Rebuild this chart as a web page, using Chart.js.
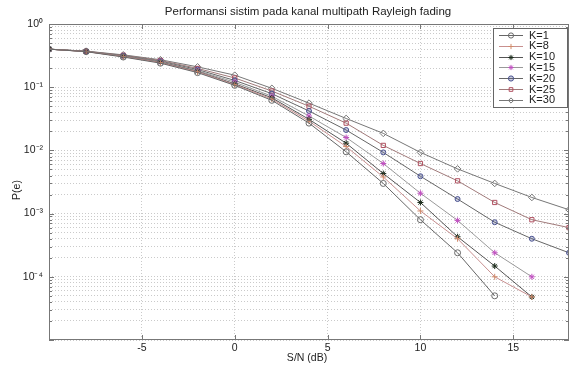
<!DOCTYPE html>
<html>
<head>
<meta charset="utf-8">
<script src="https://cdn.jsdelivr.net/npm/chart.js@4.4.1/dist/chart.umd.min.js"></script>
<style>
  html, body { margin: 0; padding: 0; background: #fff; }
  #wrap { width: 574px; height: 365px; position: relative; }
</style>
</head>
<body>
<div id="wrap"><canvas id="chart"></canvas></div>
<script>
// S/N (dB) sample points
const snr = [-10, -8, -6, -4, -2, 0, 2, 4, 6, 8, 10, 12, 14, 16, 18];

// P(e) per K (null = not plotted)
const k1  = [0.40, 0.365, 0.300, 0.240, 0.170, 0.107, 0.062, 0.027, 0.0095, 0.0030, 0.00080, 0.00024, 0.00005, null, null];
const k8  = [0.40, 0.366, 0.305, 0.245, 0.175, 0.110, 0.065, 0.029, 0.0115, 0.0038, 0.00110, 0.00040, 0.00010, 0.000048, null];
const k10 = [0.40, 0.367, 0.307, 0.248, 0.178, 0.113, 0.068, 0.031, 0.0130, 0.0043, 0.00150, 0.00043, 0.000148, 0.000048, null];
const k15 = [0.40, 0.368, 0.310, 0.252, 0.183, 0.120, 0.072, 0.035, 0.0160, 0.0062, 0.00210, 0.00078, 0.00024, 0.00010, null];
const k20 = [0.40, 0.369, 0.315, 0.258, 0.190, 0.128, 0.079, 0.042, 0.0210, 0.0093, 0.00390, 0.00170, 0.00073, 0.00040, 0.00024];
const k25 = [0.40, 0.370, 0.320, 0.265, 0.198, 0.140, 0.087, 0.050, 0.0270, 0.0120, 0.00620, 0.00330, 0.00150, 0.00080, 0.00060];
const k30 = [0.40, 0.372, 0.325, 0.272, 0.210, 0.155, 0.096, 0.056, 0.0320, 0.0186, 0.00930, 0.00510, 0.00300, 0.00180, 0.00115];

const seriesLabels = ['K=1', 'K=8', 'K=10', 'K=15', 'K=20', 'K=25', 'K=30'];
const seriesValues = [k1, k8, k10, k15, k20, k25, k30];

const xTicks = [-5, 0, 5, 10, 15];
const yDecades = [-5, -4, -3, -2, -1, 0];

const FONT = '"Liberation Sans", Arial, Helvetica, sans-serif';

const styles = [
    { line: '#666', point: '#6a6a6a', fill: 'rgba(0,0,0,0)', shape: 'circle', r: 3 },
    { line: '#c89090', point: '#d08a6a', fill: 'rgba(0,0,0,0)', shape: 'cross', r: 3 },
    { line: '#555', point: '#1a2a1a', fill: 'rgba(0,0,0,0)', shape: 'star', r: 3 },
    { line: '#999', point: '#c050c0', fill: 'rgba(200,90,200,0.3)', shape: 'star', r: 3 },
    { line: '#666', point: '#4a5290', fill: 'rgba(80,90,150,0.3)', shape: 'circle', r: 2.5 },
    { line: '#a07a7a', point: '#b05060', fill: 'rgba(0,0,0,0)', shape: 'rect', r: 3 },
    { line: '#777', point: '#777', fill: 'rgba(0,0,0,0)', shape: 'rectRot', r: 3.3 },
];

const datasets = seriesValues.map((vals, i) => ({
    label: seriesLabels[i],
    data: snr.map((x, j) => ({ x, y: vals[j] })),
    borderColor: styles[i].line,
    borderWidth: 1,
    pointStyle: styles[i].shape,
    pointRadius: styles[i].r,
    pointBorderColor: styles[i].point,
    pointBackgroundColor: styles[i].fill,
    pointBorderWidth: 1,
    tension: 0,
    spanGaps: false,
}));

const supers = { '-': '\u207B', '0': '\u2070', '1': '\u00B9', '2': '\u00B2', '3': '\u00B3', '4': '\u2074', '5': '\u2075' };

// Matlab-style frame, inward ticks, title, axis labels and legend box
const decorations = {
    id: 'decorations',
    afterDraw(chart) {
        const { ctx, chartArea: a, scales } = chart;
        ctx.save();
        ctx.strokeStyle = '#777';
        ctx.lineWidth = 1;
        ctx.strokeRect(a.left + 0.5, a.top + 0.5, a.right - a.left - 1, a.bottom - a.top - 1);

        // inward tick marks
        ctx.beginPath();
        xTicks.forEach(v => {
            const px = Math.round(scales.x.getPixelForValue(v)) + 0.5;
            ctx.moveTo(px, a.bottom); ctx.lineTo(px, a.bottom - 5);
            ctx.moveTo(px, a.top); ctx.lineTo(px, a.top + 5);
        });
        yDecades.forEach(d => {
            for (let m = 1; m <= 9; m++) {
                const v = m * Math.pow(10, d);
                if (v > 1) break;
                const py = Math.round(scales.y.getPixelForValue(v)) + 0.5;
                const len = m === 1 ? 5 : 3;
                ctx.moveTo(a.left, py); ctx.lineTo(a.left + len, py);
                ctx.moveTo(a.right, py); ctx.lineTo(a.right - len, py);
            }
        });
        ctx.stroke();

        // texts
        ctx.fillStyle = '#222';
        ctx.textAlign = 'center';
        ctx.textBaseline = 'middle';
        ctx.font = '11.5px ' + FONT;
        ctx.fillText('Performansi sistim pada kanal multipath Rayleigh fading', 308, 12);
        ctx.font = '10.5px ' + FONT;
        ctx.fillText('S/N (dB)', 307, 358);
        ctx.save();
        ctx.translate(17, 190);
        ctx.rotate(-Math.PI / 2);
        ctx.fillText('P(e)', 0, 0);
        ctx.restore();

        // legend
        const lx = 493, ly = 28, lw = 74, lh = 79;
        ctx.fillStyle = '#fff';
        ctx.fillRect(lx, ly, lw, lh);
        ctx.strokeStyle = '#666';
        ctx.strokeRect(lx + 0.5, ly + 0.5, lw, lh);
        ctx.font = '11px ' + FONT;
        ctx.textAlign = 'left';
        seriesLabels.forEach((lab, i) => {
            const y = 35 + i * 10.8;
            const s = styles[i];
            ctx.strokeStyle = s.line;
            ctx.lineWidth = 1;
            ctx.beginPath();
            ctx.moveTo(499, Math.round(y) + 0.5);
            ctx.lineTo(523, Math.round(y) + 0.5);
            ctx.stroke();
            if (Chart.helpers && Chart.helpers.drawPoint) {
                ctx.strokeStyle = s.point;
                ctx.fillStyle = s.fill;
                Chart.helpers.drawPoint(ctx, { pointStyle: s.shape, radius: 2.6, rotation: 0, borderWidth: 1 }, 511, Math.round(y) + 0.5);
            }
            ctx.fillStyle = '#222';
            ctx.fillText(lab, 529, y + 0.5);
        });
        ctx.restore();
    }
};

new Chart(document.getElementById('chart'), {
    type: 'line',
    data: { datasets },
    plugins: [decorations],
    options: {
        responsive: true,
        maintainAspectRatio: false,
        animation: false,
        layout: { padding: { left: 0, right: 2, top: 24, bottom: 0 } },
        plugins: {
            legend: { display: false },
            title: { display: false },
            tooltip: { enabled: false },
        },
        scales: {
            x: {
                type: 'linear',
                min: -10,
                max: 18,
                afterBuildTicks: s => { s.ticks = xTicks.map(v => ({ value: v })); },
                afterFit: s => { s.height = 25; },
                ticks: {
                    color: '#222',
                    font: { size: 10.5, family: FONT },
                    padding: 2,
                    maxRotation: 0,
                    autoSkip: false,
                },
                grid: { color: '#cacaca', drawTicks: false, lineWidth: 1 },
                border: { display: false, dash: [1, 2] },
            },
            y: {
                type: 'logarithmic',
                min: 1e-5,
                max: 1,
                afterBuildTicks: s => {
                    const t = [];
                    yDecades.forEach(d => {
                        for (let m = 1; m <= 9; m++) {
                            const v = m * Math.pow(10, d);
                            if (v <= 1 + 1e-12) t.push({ value: v, major: m === 1 });
                        }
                    });
                    s.ticks = t;
                },
                afterFit: s => { s.width = 49; },
                ticks: {
                    color: '#222',
                    font: { size: 10.5, family: FONT },
                    padding: 6,
                    autoSkip: false,
                    callback: v => {
                        const e = Math.round(Math.log10(v));
                        if (Math.abs(Math.log10(v) - e) > 1e-6 || e === -5) return '';
                        const s = String(e).split('').map(c => supers[c]).join('');
                        return '10' + s;
                    },
                },
                grid: { color: '#cacaca', drawTicks: false, lineWidth: 1 },
                border: { display: false, dash: [1, 2] },
            },
        },
    },
});
</script>
</body>
</html>
